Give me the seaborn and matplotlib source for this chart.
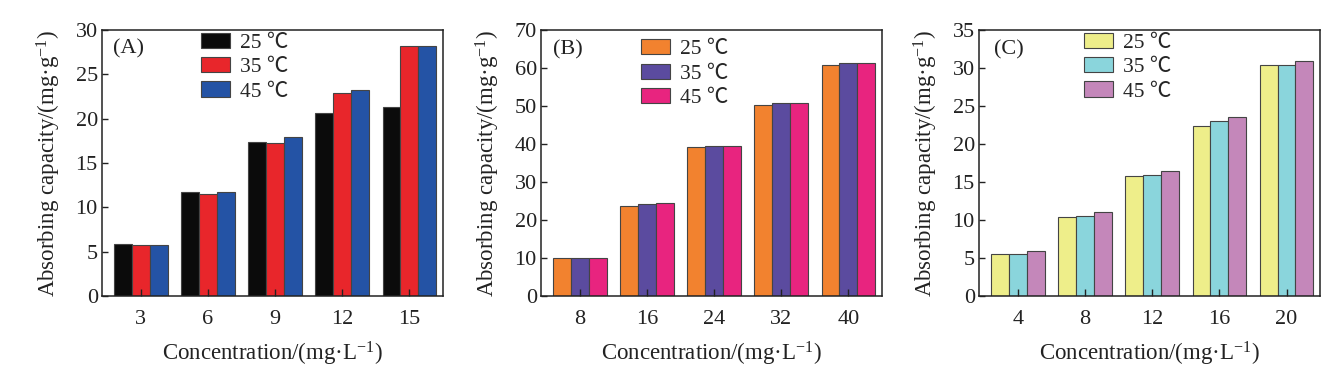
import numpy as np
import pandas as pd
import matplotlib
matplotlib.use("Agg")
import matplotlib.pyplot as plt
import seaborn as sns

# ======================
# DATA
# ======================
temps = ["25 ℃", "35 ℃", "45 ℃"]

conc_a = ["3", "6", "9", "12", "15"]
a_25 = [5.85, 11.7, 17.35, 20.6, 21.35]
a_35 = [5.75, 11.55, 17.3, 22.9, 28.25]
a_45 = [5.75, 11.7, 17.9, 23.2, 28.25]

conc_b = ["8", "16", "24", "32", "40"]
b_25 = [10.1, 23.7, 39.2, 50.3, 60.7]
b_35 = [10.1, 24.3, 39.5, 50.7, 61.4]
b_45 = [10.1, 24.6, 39.5, 50.7, 61.4]

conc_c = ["4", "8", "12", "16", "20"]
c_25 = [5.56, 10.45, 15.8, 22.4, 30.35]
c_35 = [5.56, 10.54, 15.88, 23.0, 30.4]
c_45 = [5.87, 11.07, 16.4, 23.6, 30.9]

colors_a = ["#0b0b0b", "#e8262b", "#2453a5"]
colors_b = ["#f2822f", "#5b4b9f", "#e8247f"]
colors_c = ["#eeee8a", "#8ad5dc", "#c487ba"]


def long_df(conc, s25, s35, s45):
    rows = []
    for t, vals in zip(temps, [s25, s35, s45]):
        for c, v in zip(conc, vals):
            rows.append({"conc": c, "temp": t, "value": v})
    return pd.DataFrame(rows)


panels = [
    ("(A)", long_df(conc_a, a_25, a_35, a_45), conc_a, colors_a, 30, 5,
     (0.29, 0.99), (0.032, 0.93)),
    ("(B)", long_df(conc_b, b_25, b_35, b_45), conc_b, colors_b, 70, 10,
     (0.293, 0.965), (0.035, 0.925)),
    ("(C)", long_df(conc_c, c_25, c_35, c_45), conc_c, colors_c, 35, 5,
     (0.308, 0.99), (0.044, 0.925)),
]

# ======================
# STYLE
# ======================
sns.set_style("ticks")
plt.rcParams["font.family"] = ["Liberation Serif", "Noto Sans CJK SC", "DejaVu Serif"]
plt.rcParams["mathtext.fontset"] = "custom"
plt.rcParams["mathtext.rm"] = "Liberation Serif"

fig = plt.figure(figsize=(13.38, 3.82), dpi=100)
lefts = [0.0762, 0.4043, 0.7317]

for left, (tag, df, conc, cols, ymax, ystep, leg_pos, tag_pos) in zip(lefts, panels):
    ax = fig.add_axes([left, 0.2251, 0.2549, 0.6963])
    sns.barplot(data=df, x="conc", y="value", hue="temp", order=conc,
                hue_order=temps, palette=cols, width=0.8, saturation=1,
                edgecolor="#444444", linewidth=0.8, ax=ax)
    ax.set_xlim(-0.58, 4.5)
    ax.set_ylim(0, ymax)
    ax.set_yticks(np.arange(0, ymax + 1, ystep))
    ax.set_axisbelow(False)
    ax.tick_params(axis="x", direction="in", length=5, width=1, labelsize=16, pad=10,
                   color="#222222", labelcolor="#222222")
    ax.tick_params(axis="y", direction="in", length=4, width=1, labelsize=16, pad=3,
                   color="#222222", labelcolor="#222222")
    for s in ax.spines.values():
        s.set_linewidth(1.1)
        s.set_color("#222222")
    ax.set_xlabel(r"Concentration/(mg·L$\mathregular{^{-1}}$)", fontsize=16.5,
                  labelpad=8, color="#222222")
    ax.set_ylabel(r"Absorbing capacity/(mg·g$\mathregular{^{-1}}$)", fontsize=16.5,
                  labelpad=9, color="#222222")
    ax.text(tag_pos[0], tag_pos[1], tag, transform=ax.transAxes, fontsize=16,
            va="center", ha="left", color="#222222")
    ax.legend(loc="upper left", bbox_to_anchor=leg_pos, frameon=False,
              fontsize=15.5, handlelength=1.35, handleheight=0.7,
              labelspacing=0.2, handletextpad=0.45, borderpad=0,
              borderaxespad=0)

fig.savefig("out.png", dpi=100)
